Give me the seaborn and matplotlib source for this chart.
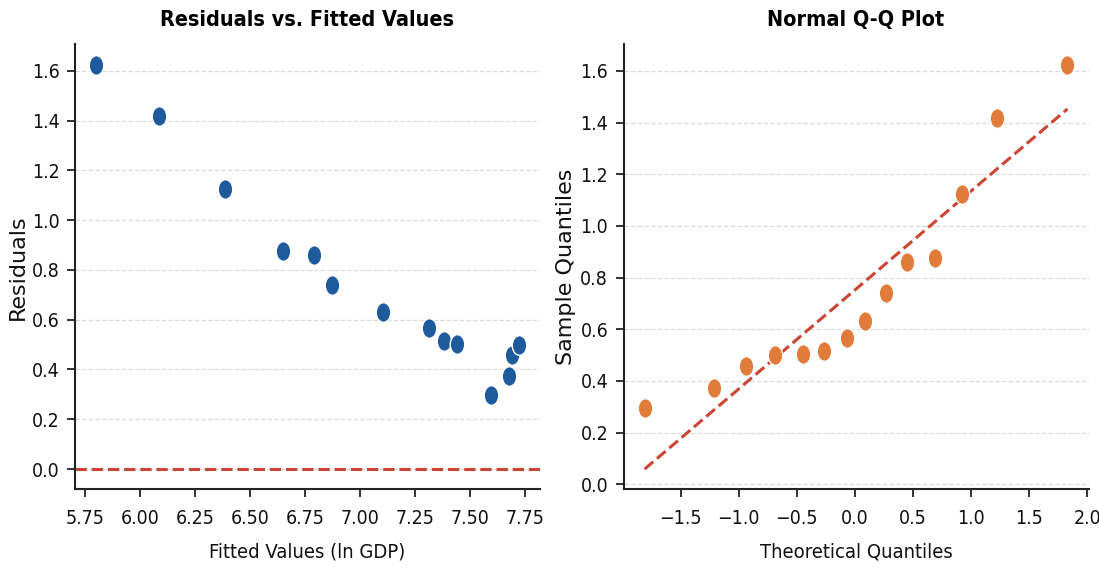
"""
Regression diagnostics: residuals vs fitted + normal Q-Q plot
"""

import numpy as np
import pandas as pd
import matplotlib
matplotlib.use("Agg")
import matplotlib.pyplot as plt
from matplotlib import font_manager as fm
from matplotlib.path import Path
from matplotlib.transforms import Affine2D
import seaborn as sns

# ─────────────────────────────────────────────────────────────────
# DATA
# ─────────────────────────────────────────────────────────────────
fitted = [5.798, 6.086, 6.386, 6.648, 6.792, 6.873, 7.104,
          7.316, 7.385, 7.441, 7.595, 7.680, 7.694, 7.723]
residuals = [1.625, 1.417, 1.123, 0.874, 0.859, 0.741, 0.632,
             0.565, 0.514, 0.504, 0.296, 0.373, 0.457, 0.499]

theoretical_q = [-1.81, -1.21, -0.94, -0.69, -0.45, -0.27, -0.07,
                 0.09, 0.27, 0.45, 0.69, 0.92, 1.22, 1.83]
sample_q = sorted(residuals)

qq_slope = 0.383
qq_intercept = 0.752

# ─────────────────────────────────────────────────────────────────
# STYLE
# ─────────────────────────────────────────────────────────────────
BLUE = "#1f5b9c"
ORANGE = "#e07b39"
RED = "#cc4433"
SPINE = "#222222"
TEXT = "#111111"

sns.set_theme(style="ticks")
plt.rcParams["font.family"] = ["DejaVu Sans"]
plt.rcParams["axes.unicode_minus"] = True

# narrow font for horizontal text, if one is around
entries = {(f.name, f.stretch) for f in fm.fontManager.ttflist}
names = {f.name for f in fm.fontManager.ttflist}
if ("DejaVu Sans", "condensed") in entries:
    NARROW = dict(family="DejaVu Sans", stretch="condensed")
    k = 1.0
elif "Liberation Sans Narrow" in names:
    NARROW = dict(family="Liberation Sans Narrow")
    k = 1.0
elif "Roboto Condensed" in names:
    NARROW = dict(family="Roboto Condensed")
    k = 1.0
else:
    NARROW = dict(family="DejaVu Sans")
    k = 0.9

TICK_FS = 14 * k
LABEL_FS = 14.5 * k
TITLE_FS = 15.5 * k

# slightly squeezed dot, like the reference
ell = Path.unit_circle().transformed(Affine2D().scale(0.74, 1.0))

df_res = pd.DataFrame({"fitted": fitted, "resid": residuals})
df_qq = pd.DataFrame({"theo": theoretical_q, "sample": sample_q})

fig, axes = plt.subplots(1, 2, figsize=(10.99, 5.68), dpi=100)
fig.subplots_adjust(left=0.068, right=0.9905, bottom=0.1386, top=0.922, wspace=0.18)


def style_ax(ax, title, xlabel, ylabel):
    ax.set_axisbelow(True)
    ax.yaxis.grid(True, linestyle="--", color="#dcdcdc", linewidth=0.9)
    ax.xaxis.grid(False)
    sns.despine(ax=ax)
    for side in ("left", "bottom"):
        ax.spines[side].set_color(SPINE)
        ax.spines[side].set_linewidth(1.5)
    ax.tick_params(axis="both", length=6, width=1.3, color=SPINE, pad=5)
    ax.tick_params(axis="x", pad=8)
    for lab in ax.get_xticklabels() + ax.get_yticklabels():
        lab.set_fontproperties(fm.FontProperties(size=TICK_FS, **NARROW))
        lab.set_color(TEXT)
    ax.set_title(title, fontsize=TITLE_FS, fontweight="bold", pad=13, color="black", **NARROW)
    ax.set_xlabel(xlabel, fontsize=LABEL_FS, labelpad=11, color=TEXT, **NARROW)
    ax.set_ylabel(ylabel, fontsize=16, labelpad=3, color=TEXT, family="DejaVu Sans")


# ─────────────────────────────────────────────────────────────────
# 1. RESIDUALS VS FITTED
# ─────────────────────────────────────────────────────────────────
ax = axes[0]
sns.scatterplot(data=df_res, x="fitted", y="resid", color=BLUE, marker=ell,
                s=200, edgecolor="white", linewidth=1, ax=ax, zorder=3)
ax.axhline(0, color=RED, linestyle="--", linewidth=2.2, zorder=2)
ax.set_xticks(np.arange(5.75, 7.76, 0.25))
ax.set_yticks(np.arange(0, 1.61, 0.2))
style_ax(ax, "Residuals vs. Fitted Values", "Fitted Values (ln GDP)", "Residuals")

# ─────────────────────────────────────────────────────────────────
# 2. NORMAL Q-Q
# ─────────────────────────────────────────────────────────────────
ax = axes[1]
line_x = [theoretical_q[0], theoretical_q[-1]]
line_y = [qq_intercept + qq_slope * v for v in line_x]
ax.plot(line_x, line_y, color=RED, linestyle="--", linewidth=2.2, zorder=2)
sns.scatterplot(data=df_qq, x="theo", y="sample", color=ORANGE, marker=ell,
                s=200, edgecolor="white", linewidth=1, ax=ax, zorder=3)
ax.set_xticks(np.arange(-1.5, 2.01, 0.5))
ax.set_yticks(np.arange(0, 1.61, 0.2))
style_ax(ax, "Normal Q-Q Plot", "Theoretical Quantiles", "Sample Quantiles")

fig.savefig("out.png", dpi=100)
